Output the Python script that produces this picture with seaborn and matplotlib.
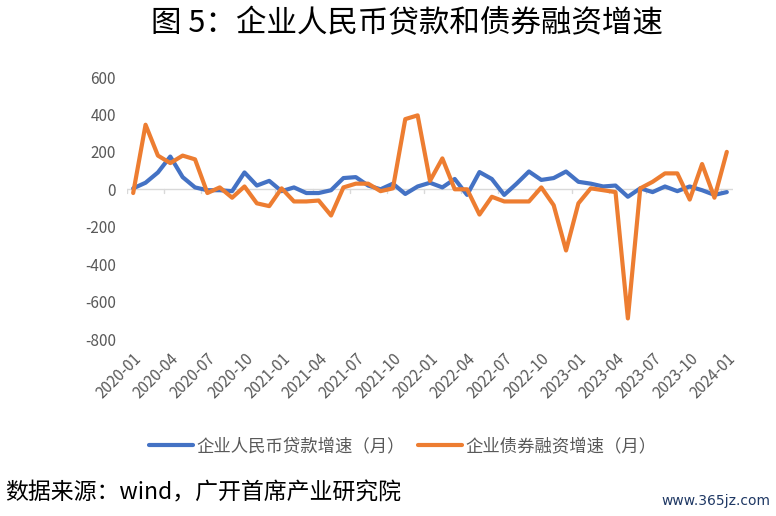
import pandas as pd
import numpy as np
import matplotlib.pyplot as plt
import seaborn as sns

sns.set_theme(style='white')
plt.rcParams['font.family'] = ['Noto Sans CJK SC', 'DejaVu Sans']
plt.rcParams['axes.unicode_minus'] = False

# Data
months = pd.date_range('2020-01-01', '2024-01-01', freq='MS').strftime('%Y-%m').tolist()
loan_growth = [5, 35, 90, 175, 65, 10, -5, -5, -10, 90, 20, 45,
               -10, 10, -20, -20, -5, 60, 65, 20, 0, 30, -25, 15,
               35, 10, 55, -30, 92, 55, -30, 30, 95, 50, 60, 95,
               40, 30, 15, 20, -40, 5, -15, 15, -10, 15, -5, -30,
               -15]
bond_growth = [-20, 345, 180, 140, 180, 160, -20, 10, -45, 15, -75, -90,
               5, -65, -65, -60, -140, 10, 30, 30, -10, 5, 375, 395,
               45, 165, 0, 0, -135, -40, -65, -65, -65, 10, -85, -327,
               -75, 5, -5, -15, -690, 5, 40, 85, 85, -55, 135, -45,
               200]
series_names = ['企业人民币贷款增速（月）', '企业债券融资增速（月）']
colors = ['#4472C4', '#ED7D31']

df = pd.DataFrame({
    'idx': list(range(len(months))) * 2,
    'value': loan_growth + bond_growth,
    'series': [series_names[0]] * len(months) + [series_names[1]] * len(months),
})

fig = plt.figure(figsize=(7.76, 5.16), dpi=100)
ax = fig.add_axes([127 / 776, 177 / 516, 606 / 776, 262 / 516])

sns.lineplot(data=df, x='idx', y='value', hue='series', palette=colors,
             linewidth=3, ax=ax, legend=True, solid_capstyle='round')

ax.set_xlim(-0.5, len(months) - 0.5)
ax.set_ylim(-800, 600)
ax.set_yticks(np.arange(-800, 601, 200))
ax.tick_params(axis='y', labelsize=11, labelcolor='#595959', length=0, pad=8)
for s in ax.spines.values():
    s.set_visible(False)
ax.set_xlabel('')
ax.set_ylabel('')

# category axis drawn at zero with tick marks between categories
ax.axhline(0, color='#D9D9D9', linewidth=1, zorder=0)
for b in np.arange(-0.5, len(months), 3):
    ax.plot([b, b], [0, -22], color='#D9D9D9', linewidth=1, zorder=0)

tick_pos = list(range(0, len(months), 3))
ax.set_xticks(tick_pos)
ax.set_xticklabels([months[i] for i in tick_pos], rotation=45, ha='right',
                   rotation_mode='anchor', fontsize=11, color='#595959')
ax.tick_params(axis='x', length=0, pad=8)

leg = ax.legend(loc='upper center', bbox_to_anchor=(0.455, -0.315), ncol=2,
                frameon=False, fontsize=12.5, handlelength=2.5, columnspacing=0.8,
                handletextpad=0.2)
for t in leg.get_texts():
    t.set_color('#595959')

fig.text(0.524, 0.955, '图 5：企业人民币贷款和债券融资增速', ha='center', va='center',
         fontsize=22, color='black')
fig.text(0.006, 0.045, '数据来源：wind，广开首席产业研究院', ha='left', va='center',
         fontsize=16.5, color='black')
fig.text(0.993, 0.03, 'www.365jz.com', ha='right', va='center',
         fontsize=10, color='#1F3864', family=['DejaVu Sans'])

plt.savefig('out.png', dpi=100)
plt.close()
